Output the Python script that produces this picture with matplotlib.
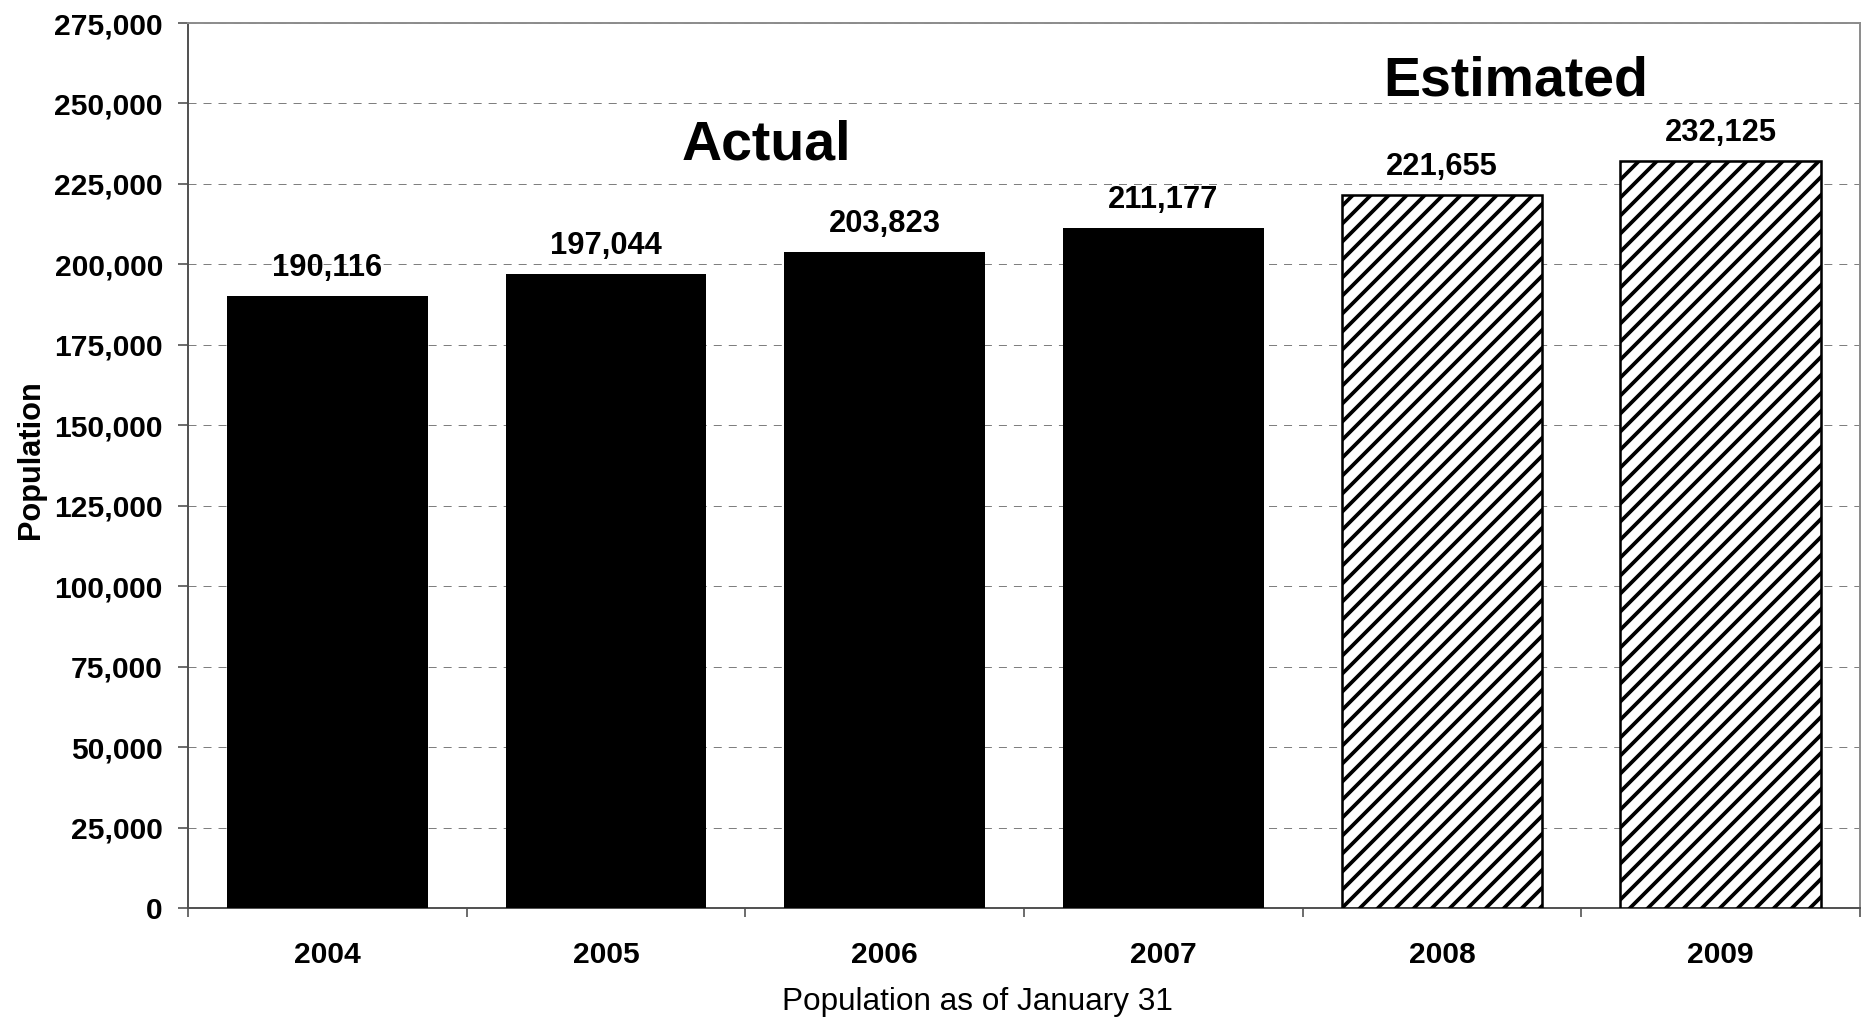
import matplotlib
matplotlib.use("Agg")
import matplotlib.pyplot as plt
from matplotlib.ticker import FuncFormatter, FixedLocator

years = ["2004", "2005", "2006", "2007", "2008", "2009"]
population = [190116, 197044, 203823, 211177, 221655, 232125]
estimated = [False, False, False, False, True, True]
y_ticks = list(range(0, 275001, 25000))

DPI = 108
plt.rcParams['font.family'] = ['Liberation Sans', 'DejaVu Sans']
plt.rcParams['hatch.linewidth'] = 2.5
plt.rcParams['hatch.color'] = 'black'

fig = plt.figure(figsize=(1872 / DPI, 1021 / DPI), dpi=DPI)
ax = fig.add_axes([188 / 1872, 1 - 908 / 1021, (1860 - 188) / 1872, (908 - 23) / 1021])

x = list(range(len(years)))
for xi, v, est in zip(x, population, estimated):
    if est:
        ax.bar(xi, v, width=0.72, facecolor='white', edgecolor='black',
               linewidth=1.7, hatch='//', zorder=3)
    else:
        ax.bar(xi, v, width=0.72, color='black', linewidth=0, zorder=3)
    ax.annotate(f"{v:,}", (xi, v), xytext=(0, 13.3), textcoords='offset points',
                ha='center', va='baseline', fontsize=20.6, fontweight='bold', zorder=4)

ax.set_xlim(-0.5, len(years) - 0.5)
ax.set_ylim(0, 275000)
ax.yaxis.set_major_locator(FixedLocator(y_ticks))
ax.yaxis.set_major_formatter(FuncFormatter(lambda v, p: f"{int(v):,}"))
ax.set_xticks(x)
ax.set_xticklabels(years)
ax.xaxis.set_minor_locator(FixedLocator([i - 0.5 for i in range(len(years) + 1)]))

ax.tick_params(axis='x', which='major', length=0, pad=22, labelsize=20)
ax.tick_params(axis='x', which='minor', length=6, width=1.0, color='#404040', direction='out')
ax.tick_params(axis='y', which='major', length=6.7, width=1.0, color='#404040',
               direction='out', pad=10, labelsize=20)
for lab in ax.get_xticklabels() + ax.get_yticklabels():
    lab.set_fontweight('bold')

ax.grid(axis='y', color='#7f7f7f', linewidth=0.667, linestyle=(0, (8, 7)), zorder=1)
ax.set_axisbelow(True)

for side in ['left', 'bottom']:
    ax.spines[side].set_color('#505050')
    ax.spines[side].set_linewidth(1.3)
for side in ['top', 'right']:
    ax.spines[side].set_color('#8c8c8c')
    ax.spines[side].set_linewidth(1.3)

ax.text(0.3457, 0.8452, "Actual", transform=ax.transAxes, ha='center', va='baseline',
        fontsize=37, fontweight='bold')
ax.text(0.7943, 0.9186, "Estimated", transform=ax.transAxes, ha='center', va='baseline',
        fontsize=37, fontweight='bold')

fig.text(31 / 1872, 1 - 460 / 1021, "Population", rotation=90, ha='center', va='center',
         fontsize=20.5, fontweight='bold')
fig.text(977 / 1872, 1 - 1010 / 1021, "Population as of January 31", ha='center',
         va='baseline', fontsize=21)

fig.savefig("out.png", dpi=DPI)
